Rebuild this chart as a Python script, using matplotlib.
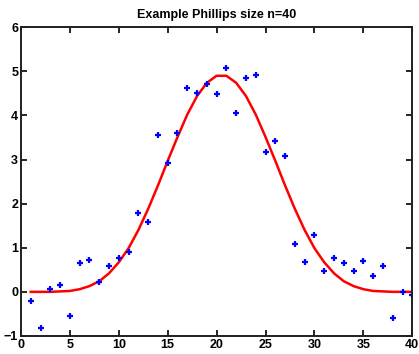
import matplotlib
matplotlib.use("Agg")
import matplotlib.pyplot as plt

# index of each sample
idx = list(range(1, 41))

# exact (smooth) curve
exact = [0.00, 0.00, 0.00, 0.01, 0.02, 0.06, 0.13, 0.24, 0.42, 0.67,
         0.99, 1.40, 1.88, 2.41, 2.97, 3.51, 4.02, 4.44, 4.74, 4.90,
         4.90, 4.74, 4.44, 4.02, 3.51, 2.97, 2.41, 1.88, 1.40, 0.99,
         0.67, 0.42, 0.24, 0.13, 0.06, 0.02, 0.01, 0.00, 0.00, 0.00]

# noisy samples, read from the blue crosses
noisy = [-0.20, -0.82, 0.06, 0.15, -0.55, 0.65, 0.72, 0.23, 0.58, 0.77,
         0.91, 1.78, 1.59, 3.56, 2.92, 3.60, 4.62, 4.50, 4.72, 4.48,
         5.08, 4.05, 4.85, 4.91, 3.17, 3.43, 3.08, 1.08, 0.68, 1.30,
         0.48, 0.77, 0.65, 0.48, 0.70, 0.35, 0.59, -0.59, -0.01, -0.07]

xticks = list(range(0, 41, 5))
yticks = list(range(-1, 7))

plt.rcParams['font.family'] = ['Liberation Sans', 'DejaVu Sans']
plt.rcParams['font.weight'] = 'bold'

fig = plt.figure(figsize=(4.19, 3.54), dpi=100)
ax = fig.add_axes([0.050, 0.051, 0.934, 0.872])

ax.plot(idx, exact, color='#ff0000', linewidth=1.8)
ax.plot(idx, noisy, linestyle='none', marker='+', color='#0000ff',
        markersize=5, markeredgewidth=1.6)

ax.set_xlim(0, 40)
ax.set_ylim(-1, 6)
ax.set_xticks(xticks)
ax.set_yticks(yticks)
ax.tick_params(direction='in', length=4, width=1.2, top=True, right=True,
               labelsize=9, pad=2)
for lab in ax.get_xticklabels() + ax.get_yticklabels():
    lab.set_fontweight('bold')
for sp in ax.spines.values():
    sp.set_linewidth(1.4)
    sp.set_color('#202020')

ax.set_title("Example Phillips size n=40", fontsize=9, fontweight='bold', pad=7)

fig.savefig("out.png", dpi=100)
